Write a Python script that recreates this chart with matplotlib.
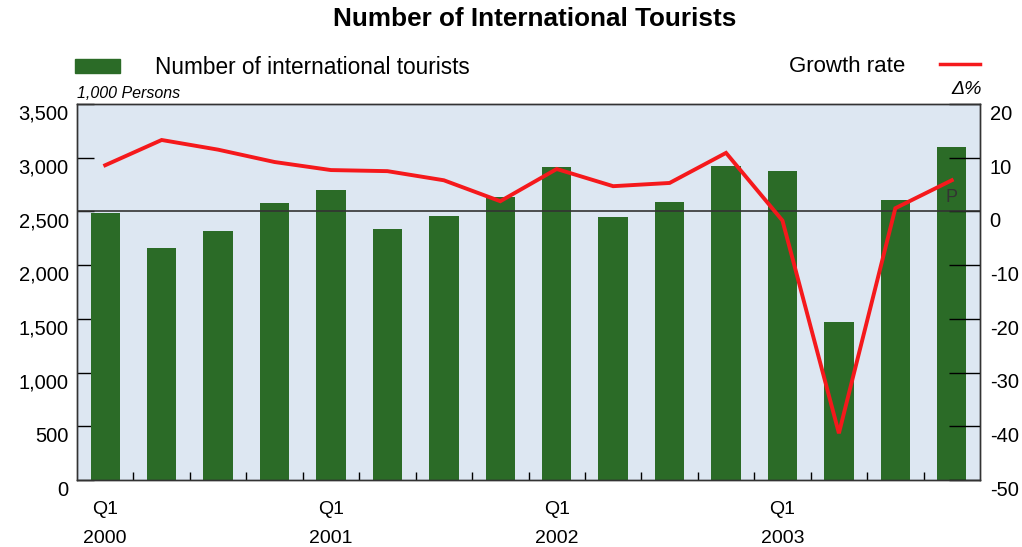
import matplotlib
matplotlib.use("Agg")
import matplotlib.pyplot as plt
from matplotlib.transforms import ScaledTranslation
import numpy as np

# quarterly data, Q1 2000 .. Q4 2003
quarters = ["Q1\n2000", "", "", "", "Q1\n2001", "", "", "", "Q1\n2002", "", "", "",
            "Q1\n2003", "", "", ""]
# number of international tourists (1,000 persons)
tourists = [2490, 2156, 2316, 2578, 2700, 2334, 2456, 2634,
            2916, 2447, 2588, 2925, 2878, 1472, 2606, 3103]
# growth rate (%)
growth = [8.6, 13.3, 11.5, 9.2, 7.7, 7.5, 5.8, 1.9,
          7.9, 4.7, 5.3, 10.9, -1.7, -41.3, 0.6, 5.8]

left_ticks = [0, 500, 1000, 1500, 2000, 2500, 3000, 3500]
right_ticks = [-50, -40, -30, -20, -10, 0, 10, 20]

bar_color = "#2b6b27"
line_color = "#f5191c"
bg_color = "#dde7f2"

plt.rcParams['font.family'] = ['Liberation Sans', 'DejaVu Sans']
plt.rcParams['axes.unicode_minus'] = False

fig = plt.figure(figsize=(10.22, 5.47), dpi=100)
ax = fig.add_axes([77/1022, 1-480/547, (980-77)/1022, (480-104)/547])
ax2 = ax.twinx()

x = np.arange(len(tourists))
ax.set_facecolor(bg_color)
ax.bar(x, tourists, width=0.52, color=bar_color, zorder=2)
ax.set_xlim(-0.5, 15.5)
ax.set_ylim(0, 3500)
ax.set_yticks(left_ticks)
ax.set_yticklabels([f"{v:,}" for v in left_ticks])
ax.tick_params(axis='y', direction='in', length=12, width=1, labelsize=14.5, pad=6)

# quarter boundaries as small ticks, labels under the bars
ax.set_xticks(x[:-1] + 0.5, minor=True)
ax.set_xticks(x)
ax.set_xticklabels(quarters, linespacing=1.95, va='top')
ax.tick_params(axis='x', which='major', length=0, labelsize=14, pad=15)
ax.tick_params(axis='x', which='minor', direction='in', length=6, width=1)

ax2.set_ylim(-50, 20)
ax2.set_yticks(right_ticks)
ax2.tick_params(axis='y', direction='in', length=22, width=1, labelsize=14.5, pad=7)
ax2.axhline(0, color="#333333", lw=1.2, zorder=3)
ax2.plot(x, growth, color=line_color, lw=2.8, zorder=4, solid_joinstyle='miter')
ax2.text(15, 1.0, "P", ha='center', va='bottom', fontsize=13, color="#333333")

# tick labels sit a little below their ticks in the original
off = ScaledTranslation(0, -6/72, fig.dpi_scale_trans)
for lab in ax.get_yticklabels() + ax2.get_yticklabels():
    lab.set_transform(lab.get_transform() + off)

for a in (ax, ax2):
    for s in a.spines.values():
        s.set_color("#333333")
        s.set_linewidth(1)

# title and legend-like header
fig.text(535/1022, 1-19/547, "Number of International Tourists", ha='center', va='center',
         fontsize=18.8, fontweight='bold')
fig.patches.append(plt.Rectangle((75/1022, 1-73/547), 45/1022, 14/547,
                                 transform=fig.transFigure, color=bar_color))
fig.text(155/1022, 1-67/547, "Number of international tourists", ha='left', va='center', fontsize=16.3)
fig.text(905/1022, 1-67/547, "Growth rate", ha='right', va='center', fontsize=16)
fig.lines.append(plt.Line2D([940/1022, 980/1022], [1-64/547, 1-64/547],
                            transform=fig.transFigure, color=line_color, lw=2.5))
fig.text(982/1022, 1-89/547, "Δ%", ha='right', va='center', fontsize=14, style='italic')
fig.text(77/1022, 1-93/547, "1,000 Persons", ha='left', va='center', fontsize=11.5, style='italic')

fig.savefig("out.png", dpi=100, facecolor='white')
